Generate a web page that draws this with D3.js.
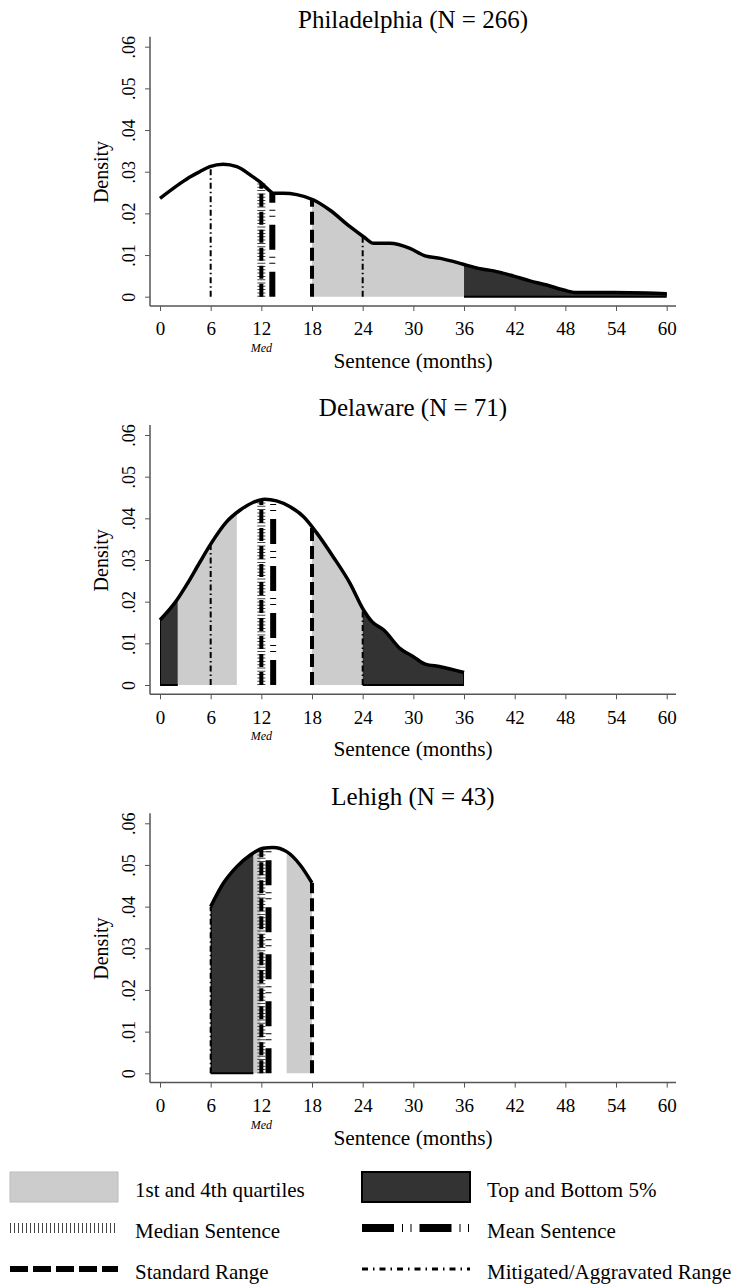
<!DOCTYPE html>
<html>
<head>
<meta charset="utf-8">
<script src="https://cdn.jsdelivr.net/npm/d3@7"></script>
<style>
  body { margin: 0; background: #fff; }
  text { font-family: "Liberation Serif", "Times New Roman", serif; fill: #000; }
</style>
</head>
<body>
<div id="chart"></div>
<script>
// ---- data ----
var xTicks = [0, 6, 12, 18, 24, 30, 36, 42, 48, 54, 60];
var yTicks = [0, 0.01, 0.02, 0.03, 0.04, 0.05, 0.06];

var panelTitles = ["Philadelphia (N = 266)", "Delaware (N = 71)", "Lehigh (N = 43)"];

var phlMonths = [0, 2.4, 3.6, 4.7, 5.9, 7.5, 9.1, 10.7, 11.8, 13.0, 13.4, 14.6, 16.2, 18.2, 20.1, 22.5, 24.1, 25.3, 27.2, 29.6, 31.4, 33.2, 35.9, 37.7, 39.5, 41.8, 43.8, 45.8, 47.8, 49.3, 53.7, 57.6, 60];
var phlDensity = [0.0236, 0.0272, 0.0288, 0.0300, 0.0312, 0.0318, 0.0312, 0.0292, 0.0276, 0.0254, 0.0248, 0.0248, 0.0245, 0.0232, 0.0208, 0.0168, 0.0144, 0.0128, 0.0128, 0.0116, 0.0098, 0.0092, 0.0078, 0.0068, 0.0062, 0.0050, 0.0038, 0.0028, 0.0016, 0.0010, 0.0010, 0.0009, 0.0007];

var delMonths = [0, 2.0, 3.2, 4.7, 6.0, 7.9, 9.5, 11.0, 12.4, 13.8, 15.4, 17.0, 18.6, 20.5, 22.5, 24.1, 25.1, 26.5, 28.4, 30.0, 31.4, 33.2, 36];
var delDensity = [0.0156, 0.0204, 0.0242, 0.0294, 0.0338, 0.0392, 0.0420, 0.0438, 0.0446, 0.0442, 0.0428, 0.0404, 0.0364, 0.0308, 0.0244, 0.0180, 0.0152, 0.0132, 0.0088, 0.0068, 0.0050, 0.0044, 0.0030];

var lehMonths = [6, 7.5, 9.1, 10.7, 12.2, 13.4, 15.0, 16.6, 18];
var lehDensity = [0.0400, 0.0456, 0.0496, 0.0524, 0.0540, 0.0542, 0.0532, 0.0500, 0.0457];

// shaded ranges (months)
var quartileRanges = [[[18, 36]], [[2.1, 9.1], [18, 24]], [[11.05, 11.9], [15, 18]]];
var tailRanges = [[[36, 60]], [[0, 2.1], [24, 36]], [[6, 11.05]]];

// reference lines (months)
var medians = [12, 12, 12];
var means = [13.3, 13.4, 12.85];
var standardRange = [[12, 18], [12, 18], [12, 18]];
var mitigatedRange = [[6, 24], [6, 24], [6, 24]];

var legendLabels = ["1st and 4th quartiles", "Top and Bottom 5%", "Median Sentence", "Mean Sentence", "Standard Range", "Mitigated/Aggravated Range"];

// ---- layout ----
var svgWidth = 748, svgHeight = 1286;
var panelStep = 388.3;
var plotLeft = 160, plotRight = 666.7;
var plotTop = 46.7, plotBottom = 296.7;

var styles = {
  median: { stroke: "#444", width: 8, dash: "1,2.3" },
  mean: { stroke: "#000", width: 6, dash: "25,8,1,5,1,7" },
  standard: { stroke: "#000", width: 4, dash: "13,5" },
  mitigated: { stroke: "#000", width: 2, dash: "6,3,1.5,3" }
};
var legendStyles = {
  median: { stroke: "#444", width: 10, dash: "1,3" },
  mean: { stroke: "#000", width: 8, dash: "32,8,1,7.5,1,8" },
  standard: { stroke: "#000", width: 6, dash: "18,5" },
  mitigated: { stroke: "#000", width: 3, dash: "6,5,1.5,5" }
};

var svg = d3.select("#chart").append("svg")
  .attr("width", svgWidth)
  .attr("height", svgHeight);

var x = d3.scaleLinear().domain([0, 60]).range([plotLeft, plotRight]);

var series = [
  phlMonths.map((m, i) => [m, phlDensity[i]]),
  delMonths.map((m, i) => [m, delDensity[i]]),
  lehMonths.map((m, i) => [m, lehDensity[i]])
];

function densityAt(data, m) {
  var bis = d3.bisector(d => d[0]).left;
  var i = bis(data, m);
  if (i <= 0) return data[0][1];
  if (i >= data.length) return data[data.length - 1][1];
  var a = data[i - 1], b = data[i];
  return a[1] + (b[1] - a[1]) * (m - a[0]) / (b[0] - a[0]);
}

series.forEach(function(data, p) {
  var off = p * panelStep;
  var g = svg.append("g");
  var y = d3.scaleLinear().domain([0, 0.06]).range([plotBottom + off, plotTop + off]);

  var area = d3.area().x(d => x(d[0])).y0(y(0)).y1(d => y(d[1])).curve(d3.curveMonotoneX);
  var line = d3.line().x(d => x(d[0])).y(d => y(d[1])).curve(d3.curveMonotoneX);

  function shade(ranges, fill, stroke, tag) {
    ranges.forEach(function(r, k) {
      var id = "clip-" + tag + "-" + p + "-" + k;
      svg.append("clipPath").attr("id", id)
        .append("rect")
        .attr("x", x(r[0])).attr("y", y(0.07))
        .attr("width", x(r[1]) - x(r[0]))
        .attr("height", y(0) - y(0.07) + 2);
      g.append("path")
        .datum(data)
        .attr("clip-path", "url(#" + id + ")")
        .attr("d", area)
        .attr("fill", fill)
        .attr("stroke", stroke)
        .attr("stroke-width", stroke === "none" ? 0 : 2);
    });
  }
  shade(quartileRanges[p], "#cccccc", "none", "q");
  shade(tailRanges[p], "#333333", "#000", "t");

  var lo = data[0][0], hi = data[data.length - 1][0];
  function vline(m, st) {
    if (m < lo || m > hi) return;
    g.append("line")
      .attr("x1", x(m)).attr("x2", x(m))
      .attr("y1", y(0)).attr("y2", y(densityAt(data, m)))
      .attr("stroke", st.stroke)
      .attr("stroke-width", st.width)
      .attr("stroke-dasharray", st.dash);
  }
  mitigatedRange[p].forEach(m => vline(m, styles.mitigated));
  vline(medians[p], styles.median);
  standardRange[p].forEach(m => vline(m, styles.standard));
  vline(means[p], styles.mean);

  g.append("path")
    .datum(data)
    .attr("d", line)
    .attr("fill", "none")
    .attr("stroke", "#000")
    .attr("stroke-width", 3.5)
    .attr("stroke-linejoin", "round");

  // axes
  var leftAxis = d3.axisLeft(y).tickValues(yTicks).tickSize(5)
    .tickFormat(d => d === 0 ? "0" : d3.format(".2f")(d).replace(/^0/, ""));
  var yAxis = g.append("g").attr("transform", `translate(${plotLeft - 10},0)`).call(leftAxis);
  yAxis.select(".domain").remove();
  yAxis.selectAll("line").attr("stroke", "#555");
  yAxis.selectAll("text")
    .attr("font-size", 18)
    .attr("font-family", "Liberation Serif, Times New Roman, serif")
    .attr("x", null).attr("dy", null)
    .attr("text-anchor", "middle")
    .attr("transform", "translate(-15,0) rotate(-90)");
  g.append("line")
    .attr("x1", plotLeft - 10).attr("x2", plotLeft - 10)
    .attr("y1", y(0.06) - 10).attr("y2", y(0) + 9.3)
    .attr("stroke", "#555").attr("stroke-width", 1.5);

  var bottomAxis = d3.axisBottom(x).tickValues(xTicks).tickSize(5).tickPadding(11);
  var xAxis = g.append("g").attr("transform", `translate(0,${y(0) + 9.3})`).call(bottomAxis);
  xAxis.select(".domain").remove();
  xAxis.selectAll("line").attr("stroke", "#555");
  xAxis.selectAll("text")
    .attr("font-size", 19)
    .attr("font-family", "Liberation Serif, Times New Roman, serif");
  g.append("line")
    .attr("x1", plotLeft - 10).attr("x2", plotRight + 9.3)
    .attr("y1", y(0) + 9.3).attr("y2", y(0) + 9.3)
    .attr("stroke", "#555").attr("stroke-width", 1.5);

  g.append("text")
    .attr("x", x(medians[p]))
    .attr("y", 352 + off)
    .attr("text-anchor", "middle")
    .attr("font-size", 12)
    .attr("font-style", "italic")
    .text("Med");

  g.append("text")
    .attr("x", 413).attr("y", 368 + off)
    .attr("text-anchor", "middle")
    .attr("font-size", 21.3)
    .text("Sentence (months)");

  g.append("text")
    .attr("transform", `translate(108,${172 + off}) rotate(-90)`)
    .attr("text-anchor", "middle")
    .attr("font-size", 20)
    .text("Density");

  g.append("text")
    .attr("x", 413).attr("y", 28 + off)
    .attr("text-anchor", "middle")
    .attr("font-size", 25)
    .text(panelTitles[p]);
});

// ---- legend ----
var legend = svg.append("g");
var colX = [10, 362], textX = [135, 487];
var rowY = [1187, 1228, 1269];

legend.append("rect").attr("x", colX[0]).attr("y", 1172).attr("width", 108).attr("height", 30)
  .attr("fill", "#cccccc").attr("stroke", "#bbb").attr("stroke-width", 1);
legend.append("rect").attr("x", colX[1]).attr("y", 1172).attr("width", 108).attr("height", 30)
  .attr("fill", "#333333").attr("stroke", "#000").attr("stroke-width", 2);

var legendLines = [
  [colX[0], rowY[1], legendStyles.median],
  [colX[1], rowY[1], legendStyles.mean],
  [colX[0], rowY[2], legendStyles.standard],
  [colX[1], rowY[2], legendStyles.mitigated]
];
legendLines.forEach(function(l) {
  legend.append("line")
    .attr("x1", l[0]).attr("x2", l[0] + 108)
    .attr("y1", l[1]).attr("y2", l[1])
    .attr("stroke", l[2].stroke)
    .attr("stroke-width", l[2].width)
    .attr("stroke-dasharray", l[2].dash);
});

legendLabels.forEach(function(t, i) {
  legend.append("text")
    .attr("x", textX[i % 2])
    .attr("y", rowY[Math.floor(i / 2)] + 10)
    .attr("font-size", 21)
    .text(t);
});
</script>
</body>
</html>
